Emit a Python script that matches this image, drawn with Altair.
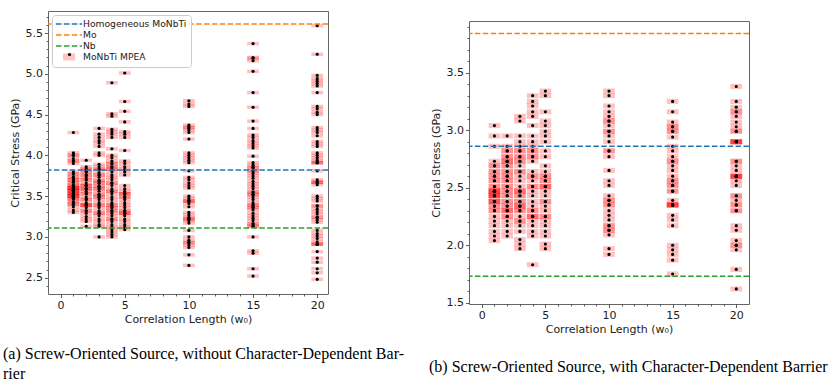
import altair as alt
import pandas as pd

# Correlation lengths (units of w0) shared by both panels
widths = [1, 2, 3, 4, 5, 10, 15, 20]

# (a) critical stress samples in GPa, screw source without character-dependent barrier
a_w1 = [4.28, 4.03, 4.00, 4.00, 3.96, 3.93, 3.93, 3.90, 3.80, 3.77, 3.77, 3.73, 3.73, 3.70, 3.70,
        3.67, 3.67, 3.63, 3.63, 3.63, 3.60, 3.60, 3.60, 3.60, 3.60, 3.57, 3.57, 3.57, 3.57, 3.57,
        3.53, 3.53, 3.53, 3.53, 3.53, 3.50, 3.50, 3.50, 3.50, 3.47, 3.47, 3.47, 3.43, 3.43, 3.40,
        3.40, 3.37, 3.33, 3.30]
a_w2 = [3.94, 3.86, 3.83, 3.83, 3.80, 3.80, 3.76, 3.76, 3.73, 3.70, 3.70, 3.66, 3.63, 3.63, 3.63,
        3.59, 3.59, 3.59, 3.56, 3.53, 3.53, 3.49, 3.46, 3.46, 3.42, 3.39, 3.39, 3.39, 3.39, 3.36,
        3.32, 3.32, 3.29, 3.25, 3.22, 3.19, 3.13]
a_w3 = [4.33, 4.26, 4.22, 4.18, 4.15, 4.11, 4.03, 4.00, 3.89, 3.86, 3.83, 3.83, 3.79, 3.76, 3.76,
        3.73, 3.69, 3.69, 3.66, 3.66, 3.62, 3.62, 3.59, 3.59, 3.56, 3.52, 3.52, 3.49, 3.49, 3.46,
        3.42, 3.39, 3.39, 3.36, 3.32, 3.29, 3.29, 3.26, 3.22, 3.19, 3.15, 3.13, 3.00]
a_w4 = [4.89, 4.51, 4.48, 4.32, 4.29, 4.26, 4.22, 4.08, 4.00, 3.97, 3.93, 3.90, 3.90, 3.86, 3.86,
        3.83, 3.83, 3.80, 3.76, 3.73, 3.70, 3.66, 3.66, 3.63, 3.59, 3.56, 3.56, 3.53, 3.49, 3.46,
        3.42, 3.39, 3.39, 3.36, 3.36, 3.32, 3.32, 3.29, 3.26, 3.22, 3.22, 3.19, 3.15, 3.12, 3.09,
        3.06, 3.03, 3.00]
a_w5 = [5.01, 4.66, 4.54, 4.41, 4.29, 4.26, 4.22, 4.06, 3.93, 3.90, 3.86, 3.83, 3.80, 3.76, 3.63,
        3.59, 3.56, 3.53, 3.53, 3.53, 3.49, 3.49, 3.46, 3.42, 3.39, 3.36, 3.32, 3.32, 3.29, 3.29,
        3.29, 3.26, 3.22, 3.19, 3.15, 3.12, 3.09]
a_w10 = [4.67, 4.63, 4.60, 4.37, 4.34, 4.34, 4.31, 4.28, 4.20, 4.03, 4.00, 3.97, 3.94, 3.91, 3.81,
         3.73, 3.70, 3.66, 3.63, 3.60, 3.50, 3.47, 3.44, 3.44, 3.44, 3.41, 3.37, 3.30, 3.27, 3.24,
         3.22, 3.22, 3.20, 3.17, 3.08, 3.00, 2.96, 2.93, 2.93, 2.90, 2.87, 2.78, 2.65]
a_w15 = [5.37, 5.20, 5.19, 5.16, 5.03, 4.77, 4.59, 4.42, 4.33, 4.25, 4.22, 4.18, 4.15, 4.12, 4.09,
         3.99, 3.91, 3.88, 3.85, 3.85, 3.81, 3.81, 3.78, 3.75, 3.72, 3.68, 3.65, 3.62, 3.59, 3.55,
         3.55, 3.52, 3.52, 3.49, 3.46, 3.42, 3.39, 3.39, 3.36, 3.36, 3.33, 3.29, 3.26, 3.23, 3.20,
         3.16, 3.16, 3.13, 3.13, 3.00, 2.83, 2.80, 2.61, 2.52]
a_w20 = [5.59, 5.24, 4.98, 4.94, 4.91, 4.88, 4.85, 4.77, 4.60, 4.57, 4.53, 4.50, 4.34, 4.31, 4.28,
         4.24, 4.17, 4.14, 4.11, 4.03, 4.00, 3.97, 3.94, 3.91, 3.91, 3.91, 3.81, 3.70, 3.67, 3.67,
         3.67, 3.64, 3.50, 3.47, 3.44, 3.38, 3.38, 3.34, 3.31, 3.28, 3.24, 3.24, 3.21, 3.18, 3.08,
         3.04, 3.01, 2.98, 2.94, 2.91, 2.91, 2.91, 2.82, 2.74, 2.69, 2.61, 2.56, 2.48]

# (b) critical stress samples in GPa, screw source with character-dependent barrier
b_w1 = [3.04, 2.95, 2.86, 2.73, 2.69, 2.69, 2.64, 2.64, 2.60, 2.60, 2.56, 2.56, 2.51, 2.51, 2.47,
        2.47, 2.47, 2.47, 2.47, 2.43, 2.43, 2.43, 2.43, 2.43, 2.38, 2.38, 2.38, 2.38, 2.34, 2.34,
        2.30, 2.30, 2.25, 2.21, 2.17, 2.12, 2.08, 2.04]
b_w2 = [2.95, 2.86, 2.82, 2.82, 2.77, 2.77, 2.73, 2.73, 2.73, 2.69, 2.69, 2.64, 2.64, 2.60, 2.60,
        2.56, 2.56, 2.51, 2.51, 2.47, 2.47, 2.43, 2.43, 2.38, 2.38, 2.34, 2.34, 2.30, 2.30, 2.30,
        2.25, 2.25, 2.21, 2.17, 2.12, 2.08]
b_w3 = [3.12, 3.08, 2.95, 2.90, 2.86, 2.82, 2.82, 2.77, 2.77, 2.73, 2.73, 2.69, 2.64, 2.64, 2.60,
        2.56, 2.51, 2.47, 2.47, 2.47, 2.43, 2.43, 2.38, 2.38, 2.34, 2.34, 2.34, 2.30, 2.30, 2.25,
        2.21, 2.21, 2.17, 2.12, 2.05, 2.01, 1.97]
b_w4 = [3.30, 3.25, 3.21, 3.16, 3.12, 3.04, 2.95, 2.90, 2.86, 2.82, 2.82, 2.77, 2.77, 2.73, 2.64,
        2.60, 2.60, 2.56, 2.51, 2.51, 2.47, 2.43, 2.38, 2.34, 2.30, 2.30, 2.25, 2.25, 2.25, 2.21,
        2.17, 2.12, 2.08, 1.83]
b_w5 = [3.34, 3.30, 3.16, 3.08, 3.04, 2.99, 2.95, 2.90, 2.82, 2.77, 2.69, 2.64, 2.60, 2.60, 2.56,
        2.56, 2.51, 2.51, 2.51, 2.47, 2.43, 2.38, 2.38, 2.34, 2.30, 2.25, 2.25, 2.21, 2.17, 2.12,
        2.08, 2.01, 1.97]
b_w10 = [3.34, 3.30, 3.21, 3.16, 3.12, 3.08, 3.08, 3.04, 2.99, 2.99, 2.95, 2.90, 2.82, 2.82, 2.77,
         2.65, 2.56, 2.52, 2.43, 2.39, 2.39, 2.35, 2.35, 2.30, 2.26, 2.22, 2.17, 2.17, 2.13, 2.13,
         2.09, 1.97, 1.92]
b_w15 = [3.25, 3.16, 3.07, 3.03, 3.03, 2.99, 2.99, 2.94, 2.86, 2.82, 2.77, 2.73, 2.73, 2.69, 2.65,
         2.60, 2.56, 2.56, 2.52, 2.52, 2.47, 2.47, 2.39, 2.35, 2.35, 2.35, 2.35, 2.35, 2.26, 2.22,
         2.17, 2.00, 1.96, 1.92, 1.87, 1.75]
b_w20 = [3.38, 3.25, 3.20, 3.16, 3.16, 3.12, 3.07, 3.03, 2.99, 2.99, 2.90, 2.90, 2.90, 2.90, 2.90,
         2.73, 2.73, 2.69, 2.65, 2.60, 2.60, 2.60, 2.60, 2.60, 2.56, 2.52, 2.43, 2.43, 2.39, 2.35,
         2.35, 2.30, 2.30, 2.17, 2.13, 2.04, 2.00, 2.00, 1.96, 1.79, 1.62]

# Reference critical stresses (GPa)
ref_names = ["Homogeneous MoNbTi", "Mo", "Nb"]
ref_a = [3.82, 5.61, 3.11]
ref_b = [2.86, 3.84, 1.73]

legend_names = ref_names + ["MoNbTi MPEA"]
legend_colors = ["#1f77b4", "#ff7f0e", "#2ca02c", "#ffc4c4"]

# Legend glyphs: a dashed segment for the reference levels, a pink box for the samples
DASH = ("M-1,-0.15H0.1V0.15H-1Z M0.58,-0.15H1.68V0.15H0.58Z "
        "M2.16,-0.15H3.26V0.15H2.16Z M3.74,-0.15H4.2V0.15H3.74Z")
BOX = "M0.4,-0.7H2.8V0.7H0.4Z"
legend_shapes = [DASH, DASH, DASH, BOX]

caption_a = ["(a) Screw-Oriented Source, without Character-Dependent Bar-", "rier"]
caption_b = "(b) Screw-Oriented Source, with Character-Dependent Barrier"

x_ticks = list(range(0, 21))


def samples(columns):
    rows = []
    for w, vals in zip(widths, columns):
        rows += [{"w": w, "stress": v} for v in vals]
    return pd.DataFrame(rows)


def panel(df, refs, xdom, ydom, yticks, caption, cap_offset, cap_dx, with_legend):
    major_x = "datum.value % 5 == 0"
    major_y = "abs(datum.value * 2 - round(datum.value * 2)) < 0.001"
    xs = alt.Scale(domain=xdom, nice=False, zero=False)
    ys = alt.Scale(domain=ydom, nice=False, zero=False)
    x_axis = alt.Axis(values=x_ticks, title="Correlation Length (w₀)",
                      labelExpr=f"{major_x} ? datum.label : ''",
                      tickSize={"condition": {"test": major_x, "value": 3.5}, "value": 2},
                      labelOverlap=False, labelFlush=False, labelPadding=2, titlePadding=3)
    y_axis = alt.Axis(values=yticks, title="Critical Stress (GPa)",
                      labelExpr=f"{major_y} ? format(datum.value, '.1f') : ''",
                      tickSize={"condition": {"test": major_y, "value": 3.5}, "value": 2},
                      labelOverlap=False, labelFlush=False, labelPadding=2, titlePadding=5)

    boxes = alt.Chart(df).transform_calculate(
        x0="datum.w - 0.46", x1="datum.w + 0.46",
        y0="datum.stress - 0.022", y1="datum.stress + 0.022",
    ).mark_rect(color="#ff0000", opacity=0.24).encode(
        x=alt.X("x0:Q", scale=xs, axis=x_axis), x2="x1:Q",
        y=alt.Y("y0:Q", scale=ys, axis=y_axis), y2="y1:Q",
    )
    dots = alt.Chart(df).mark_circle(color="black", size=10, opacity=1).encode(
        x=alt.X("w:Q", scale=xs, axis=x_axis),
        y=alt.Y("stress:Q", scale=ys, axis=y_axis),
    )
    ref_table = pd.DataFrame({"series": ref_names, "value": refs, "hue": legend_colors[:3]})
    rules = alt.Chart(ref_table).mark_rule(strokeDash=[5.5, 2.4], strokeWidth=1.5).encode(
        y=alt.Y("value:Q", scale=ys, axis=y_axis),
        color=alt.Color("hue:N", scale=None),
    )
    layers = [boxes, dots, rules]
    if with_legend:
        leg = alt.Legend(title=None, orient="top-left", offset=4, padding=4,
                         strokeColor="#cccccc", cornerRadius=3,
                         fillColor="rgba(255,255,255,0.85)",
                         symbolSize=100, symbolStrokeWidth=0, symbolOpacity=1,
                         labelOffset=17, rowPadding=0,
                         labelFont="DejaVu Sans", labelFontSize=9.2, labelColor="#222222")
        key = alt.Chart(pd.DataFrame({"series": legend_names})).transform_filter(
            "false"
        ).mark_point(filled=True, size=100).encode(
            color=alt.Color("series:N", scale=alt.Scale(domain=legend_names, range=legend_colors),
                            legend=leg),
            shape=alt.Shape("series:N", scale=alt.Scale(domain=legend_names, range=legend_shapes),
                            legend=leg),
        )
        # black sample dot drawn on top of the pink legend box
        dot_leg = alt.Legend(title=None, orient="none", legendX=19.5, legendY=41.5, padding=0,
                             symbolSize=10, symbolStrokeWidth=0, symbolOpacity=1,
                             labelExpr="''", labelFontSize=3, labelOffset=0,
                             strokeColor="transparent", fillColor="transparent")
        key_dot = alt.Chart(pd.DataFrame({"series": ["MoNbTi MPEA"]})).transform_filter(
            "false"
        ).mark_circle(size=10).encode(
            fill=alt.Fill("series:N", scale=alt.Scale(domain=["MoNbTi MPEA"], range=["black"]),
                          legend=dot_leg),
        )
        layers += [key, key_dot]
    return alt.layer(*layers).properties(
        width=280, height=283,
        title=alt.TitleParams(text=caption, orient="bottom", anchor="start", frame="group",
                              dx=cap_dx, offset=cap_offset, font="Liberation Serif",
                              fontSize=16, fontWeight="normal", color="black",
                              lineHeight=20, baseline="top"),
    )


ticks_a = [round(2.4 + 0.1 * i, 1) for i in range(34)]
ticks_b = [round(1.5 + 0.1 * i, 1) for i in range(25)]

left = panel(samples([a_w1, a_w2, a_w3, a_w4, a_w5, a_w10, a_w15, a_w20]), ref_a,
             [-0.98, 20.84], [2.30, 5.77], ticks_a, caption_a, 21, -45, True)
right = panel(samples([b_w1, b_w2, b_w3, b_w4, b_w5, b_w10, b_w15, b_w20]), ref_b,
              [-1.0, 21.0], [1.489, 3.949], ticks_b, caption_b, 24, -40, False)

spacer = alt.Chart(pd.DataFrame({"s": [0]})).mark_point(opacity=0).encode(
    x=alt.X("s:Q", axis=None), y=alt.Y("s:Q", axis=None)
).properties(width=280, height=10, view=alt.ViewBackground(strokeOpacity=0))

right_col = alt.vconcat(spacer, right, spacing=0, bounds="flush")

chart = alt.hconcat(left, right_col, spacing=141, bounds="flush").resolve_scale(
    color="independent", shape="independent", fill="independent"
).properties(
    background="white",
    padding={"left": 2, "top": 10, "right": 0, "bottom": 0},
).configure_view(
    stroke="#666666", strokeWidth=1
).configure_axis(
    grid=False, domain=False,
    labelFont="DejaVu Sans", labelFontSize=11, labelColor="#222222",
    titleFont="DejaVu Sans", titleFontSize=11, titleFontWeight="normal", titleColor="#222222",
    tickColor="#333333", tickWidth=0.8,
)

chart.save("out.html", embed_options={"renderer": "svg", "actions": False})
